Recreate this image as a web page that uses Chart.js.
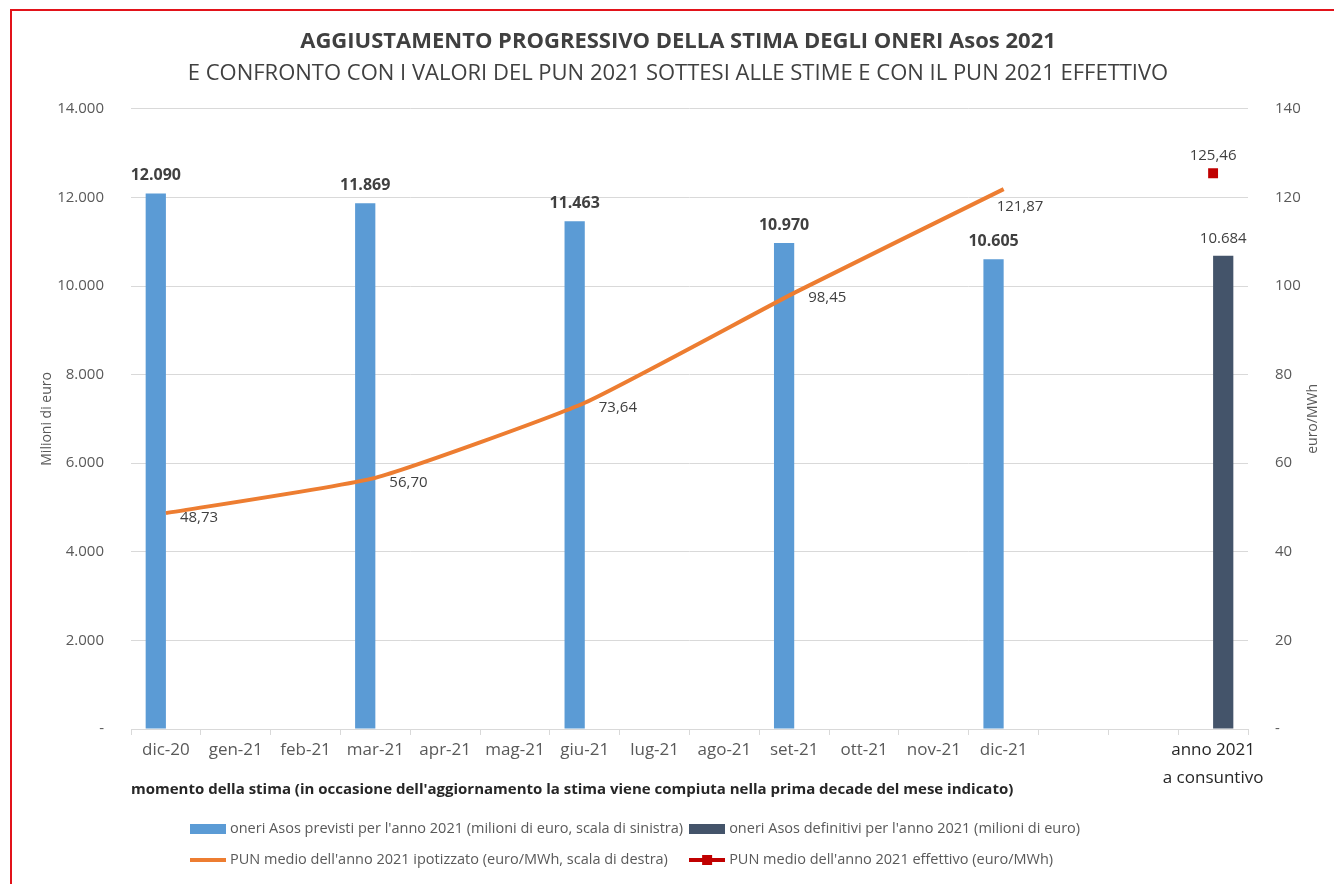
<!DOCTYPE html>
<html lang="it">
<head>
<meta charset="utf-8">
<title>Oneri Asos 2021</title>
<script src="https://cdn.jsdelivr.net/npm/chart.js@4.4.1/dist/chart.umd.min.js"></script>
<style>
    html, body { margin: 0; padding: 0; background: #fff; overflow: hidden; }
    #wrap { position: relative; width: 1334px; height: 884px; }
    #frame {
        position: absolute; left: 10px; top: 9px; width: 1340px; height: 900px;
        border: 2px solid #e2131a; box-sizing: border-box; pointer-events: none;
    }
</style>
</head>
<body>
<div id="wrap">
    <canvas id="chart" width="1334" height="884"></canvas>
    <div id="frame"></div>
</div>
<script>
// Categories (estimate months) + the final "actual" column
const categories = [
    'dic-20', 'gen-21', 'feb-21', 'mar-21', 'apr-21', 'mag-21', 'giu-21',
    'lug-21', 'ago-21', 'set-21', 'ott-21', 'nov-21', 'dic-21', '', '',
    ['anno 2021', 'a consuntivo']
];

// Oneri Asos (milioni di euro)
const oneriPrevisti = [12090, null, null, 11869, null, null, 11463, null, null, 10970, null, null, 10605, null, null, null];
const oneriDefinitivi = [null, null, null, null, null, null, null, null, null, null, null, null, null, null, null, 10684];

// PUN medio 2021 (euro/MWh)
const punIpotizzato = [48.73, null, null, 56.70, null, null, 73.64, null, null, 98.45, null, null, 121.87, null, null, null];
const punEffettivo = [null, null, null, null, null, null, null, null, null, null, null, null, null, null, null, 125.46];

// Axis ticks
const leftTicks = { min: 0, max: 14000, step: 2000 };
const rightTicks = { min: 0, max: 140, step: 20 };

const FONT = "'Open Sans', 'Noto Sans', sans-serif";
const BLUE = '#5B9BD5';
const DARK = '#44546A';
const ORANGE = '#ED7D31';
const RED = '#C00000';

Chart.defaults.font.family = FONT;

// Italian number formats
const fmtThousands = v => String(Math.round(v)).replace(/\B(?=(\d{3})+(?!\d))/g, '.');
const fmtDecimal = v => v.toFixed(2).replace('.', ',');

// Small canvases used as legend symbols
const makeIcon = draw => {
    const c = document.createElement('canvas');
    c.width = 36;
    c.height = 12;
    draw(c.getContext('2d'));
    return c;
};
const legendIcons = [
    makeIcon(g => { g.fillStyle = BLUE; g.fillRect(0, 1, 36, 10); }),
    makeIcon(g => { g.fillStyle = DARK; g.fillRect(0, 1, 36, 10); }),
    makeIcon(g => { g.fillStyle = ORANGE; g.fillRect(0, 4, 36, 4); }),
    makeIcon(g => {
        g.fillStyle = RED;
        g.fillRect(0, 4, 36, 4);
        g.fillRect(13, 1, 10, 10);
    })
];

// Data labels drawn next to bars and points
const valueLabels = {
    id: 'valueLabels',
    afterDatasetsDraw(chart) {
        const ctx = chart.ctx;
        ctx.save();
        chart.data.datasets.forEach((ds, di) => {
            const meta = chart.getDatasetMeta(di);
            const style = ds.labelStyle;
            if (!style) return;
            meta.data.forEach((el, i) => {
                const v = ds.data[i];
                if (v === null || v === undefined) return;
                ctx.font = `${style.bold ? 'bold ' : ''}${style.size}px ${FONT}`;
                ctx.fillStyle = '#404040';
                ctx.textBaseline = 'middle';
                if (style.kind === 'above') {
                    ctx.textAlign = 'center';
                    ctx.fillText(style.format(v), el.x, el.y - style.gap);
                } else {
                    const last = i === ds.data.length - 4;
                    ctx.textAlign = 'left';
                    ctx.fillText(style.format(v), el.x + (last ? -7 : 14), el.y + (last ? 18 : 5));
                }
            });
        });
        ctx.restore();
    }
};

// Secondary axis title, rotated like the primary one
const rightAxisTitle = {
    id: 'rightAxisTitle',
    afterDraw(chart) {
        const ctx = chart.ctx;
        const area = chart.chartArea;
        ctx.save();
        ctx.translate(chart.scales.y1.right - 21, (area.top + area.bottom) / 2);
        ctx.rotate(-Math.PI / 2);
        ctx.font = `14px ${FONT}`;
        ctx.fillStyle = '#595959';
        ctx.textAlign = 'center';
        ctx.textBaseline = 'middle';
        ctx.fillText('euro/MWh', 0, 0);
        ctx.restore();
    }
};

// Excel-style legend: two rows, two aligned columns, left-anchored
const excelLegend = {
    id: 'excelLegend',
    afterDraw(chart) {
        const ctx = chart.ctx;
        const datasets = chart.data.datasets;
        ctx.save();
        ctx.font = `14.5px ${FONT}`;
        ctx.fillStyle = '#595959';
        ctx.textAlign = 'left';
        ctx.textBaseline = 'middle';
        const col1 = 190;
        const firstColWidth = Math.max(ctx.measureText(datasets[0].label).width, ctx.measureText(datasets[2].label).width);
        const col2 = col1 + 40 + firstColWidth + 6;
        const top = chart.chartArea.bottom + 100;
        datasets.forEach((ds, i) => {
            const x = i % 2 === 0 ? col1 : col2;
            const y = top + Math.floor(i / 2) * 31;
            ctx.drawImage(legendIcons[i], x, y - 6);
            ctx.fillText(ds.label, x + 40, y);
        });
        ctx.restore();
    }
};

new Chart(document.getElementById('chart'), {
    type: 'bar',
    data: {
        labels: categories,
        datasets: [
            {
                type: 'bar',
                label: "oneri Asos previsti per l'anno 2021 (milioni di euro, scala di sinistra)",
                data: oneriPrevisti,
                backgroundColor: BLUE,
                yAxisID: 'y',
                order: 2,
                categoryPercentage: 0.58,
                barPercentage: 1,
                labelStyle: { kind: 'above', size: 16, bold: true, gap: 18, format: fmtThousands }
            },
            {
                type: 'bar',
                label: "oneri Asos definitivi per l'anno 2021 (milioni di euro)",
                data: oneriDefinitivi,
                backgroundColor: DARK,
                yAxisID: 'y',
                order: 2,
                categoryPercentage: 0.58,
                barPercentage: 1,
                labelStyle: { kind: 'above', size: 15, bold: false, gap: 17, format: fmtThousands }
            },
            {
                type: 'line',
                label: "PUN medio dell'anno 2021 ipotizzato (euro/MWh, scala di destra)",
                data: punIpotizzato,
                borderColor: ORANGE,
                borderWidth: 4,
                pointRadius: 0,
                spanGaps: true,
                tension: 0.15,
                yAxisID: 'y1',
                order: 1,
                labelStyle: { kind: 'side', size: 15, bold: false, format: fmtDecimal }
            },
            {
                type: 'line',
                label: "PUN medio dell'anno 2021 effettivo (euro/MWh)",
                data: punEffettivo,
                showLine: false,
                pointStyle: 'rect',
                pointRadius: 7,
                pointBackgroundColor: RED,
                pointBorderColor: RED,
                pointBorderWidth: 0,
                yAxisID: 'y1',
                order: 0,
                labelStyle: { kind: 'above', size: 15, bold: false, gap: 17, format: fmtDecimal }
            }
        ]
    },
    options: {
        responsive: false,
        animation: false,
        // left padding nudges the centred titles the way the original sits
        layout: { padding: { left: 22, right: 0, top: 0, bottom: 79 } },
        plugins: {
            title: {
                display: true,
                text: 'AGGIUSTAMENTO PROGRESSIVO DELLA STIMA DEGLI ONERI Asos 2021',
                color: '#404040',
                font: { size: 22, weight: 'bold' },
                padding: { top: 29, bottom: 0 }
            },
            subtitle: {
                display: true,
                text: 'E CONFRONTO CON I VALORI DEL PUN 2021 SOTTESI ALLE STIME E CON IL PUN 2021 EFFETTIVO',
                color: '#404040',
                font: { size: 22 },
                padding: { top: 5, bottom: 22 }
            },
            legend: { display: false },
            tooltip: { enabled: false }
        },
        scales: {
            x: {
                offset: true,
                grid: {
                    display: true,
                    drawOnChartArea: false,
                    drawTicks: true,
                    tickLength: 6,
                    color: '#D9D9D9',
                    offset: true
                },
                border: { display: true, color: '#D9D9D9' },
                ticks: {
                    autoSkip: false,
                    maxRotation: 0,
                    padding: 2,
                    color: c => (c.index === 15 ? '#262626' : '#595959'),
                    font: { size: 17, lineHeight: 1.6 }
                },
                title: {
                    display: true,
                    text: "momento della stima (in occasione dell'aggiornamento la stima viene compiuta nella prima decade del mese indicato)",
                    align: 'start',
                    color: '#262626',
                    font: { size: 15, weight: 'bold' },
                    padding: { top: 0, bottom: 6 }
                },
                afterFit: s => { s.height = 76; }
            },
            y: {
                position: 'left',
                min: leftTicks.min,
                max: leftTicks.max,
                ticks: {
                    stepSize: leftTicks.step,
                    padding: 27,
                    color: '#595959',
                    font: { size: 15 },
                    callback: v => (v === 0 ? '-' : fmtThousands(v))
                },
                grid: { color: '#D9D9D9', drawTicks: false },
                border: { display: false },
                title: {
                    display: true,
                    text: 'Milioni di euro',
                    color: '#595959',
                    font: { size: 14 },
                    padding: { top: 17, bottom: 0 }
                },
                afterFit: s => { s.width = 109; }
            },
            y1: {
                position: 'right',
                min: rightTicks.min,
                max: rightTicks.max,
                ticks: {
                    stepSize: rightTicks.step,
                    padding: 19,
                    color: '#595959',
                    font: { size: 15 },
                    callback: v => (v === 0 ? '-' : String(v))
                },
                grid: { display: false },
                border: { display: false },
                afterFit: s => { s.width = 86; }
            }
        }
    },
    plugins: [valueLabels, rightAxisTitle, excelLegend]
});
</script>
</body>
</html>
